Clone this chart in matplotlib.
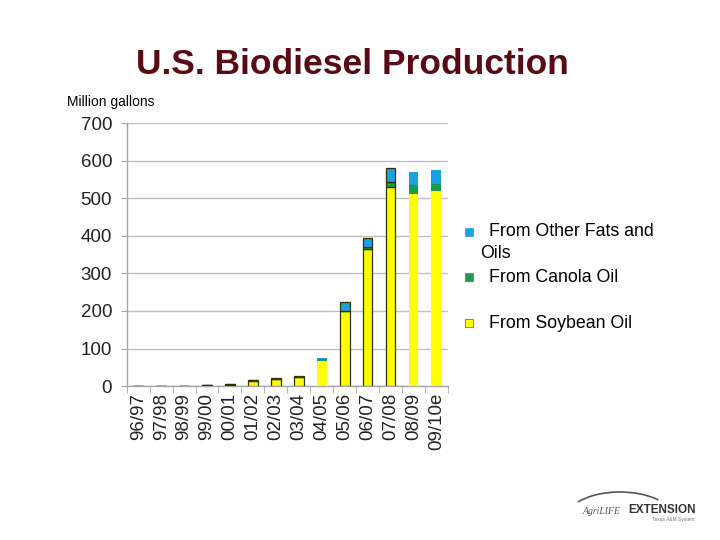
import matplotlib
matplotlib.use("Agg")
import matplotlib.pyplot as plt
from matplotlib.patches import Rectangle, Arc
import numpy as np

plt.rcParams['font.family'] = ['Liberation Sans', 'DejaVu Sans']

categories = ["96/97", "97/98", "98/99", "99/00", "00/01", "01/02", "02/03",
              "03/04", "04/05", "05/06", "06/07", "07/08", "08/09", "09/10e"]
soybean = [0, 0, 0, 2, 4, 14, 19, 24, 67, 200, 365, 529, 511, 519]
canola = [0, 0, 0, 0, 1, 1, 1, 1, 4, 1, 5, 15, 24, 20]
other = [0, 0, 0, 0, 0, 0, 1, 1, 4, 23, 25, 37, 34, 36]
yticks = [0, 100, 200, 300, 400, 500, 600, 700]

c_soy = "#ffff00"
c_can = "#1e9a4c"
c_oth = "#1ba1e2"
grey = "#a6a6a6"

fig = plt.figure(figsize=(7.2, 5.4), dpi=100)
ax = fig.add_axes([0.176, 0.285, 0.446, 0.487])

x = np.arange(len(categories))
w = 0.43
edges = ["#333300"] * 8 + ["none"] + ["#333300"] * 3 + ["none", "none"]
soy_b = np.array(soybean)
can_b = np.array(canola)
oth_b = np.array(other)
ax.bar(x, soy_b, w, color=c_soy, edgecolor=edges, linewidth=0.9, zorder=3)
ax.bar(x, can_b, w, bottom=soy_b, color=c_can, edgecolor=edges, linewidth=0.9, zorder=3)
ax.bar(x, oth_b, w, bottom=soy_b + can_b, color=c_oth, edgecolor=edges, linewidth=0.9, zorder=3)

ax.set_xlim(-0.5, len(categories) - 0.5)
ax.set_ylim(0, 700)
ax.set_yticks(yticks)
ax.set_yticklabels([str(v) for v in yticks], fontsize=13.5, color="#222222")
ax.yaxis.grid(True, color="#c0c0c0", linewidth=1.0, zorder=0)
ax.set_axisbelow(True)
ax.set_xticks(x)
ax.set_xticklabels(categories, rotation=90, fontsize=13.5, color="#222222")
ax.set_xticks(np.arange(-0.5, len(categories), 1.0), minor=True)
ax.tick_params(axis='x', which='major', length=0, pad=5)
ax.tick_params(axis='x', which='minor', length=5, color=grey, direction='out')
ax.tick_params(axis='y', length=4, color=grey, direction='out', pad=6.5)
for s in ["top", "right"]:
    ax.spines[s].set_visible(False)
for s in ["left", "bottom"]:
    ax.spines[s].set_color(grey)
    ax.spines[s].set_linewidth(1.0)

fig.text(0.489, 1 - 65 / 540, "U.S. Biodiesel Production", ha="center", va="center",
         fontsize=25.5, fontweight="bold", color="#5a0a14")
fig.text(0.093, 1 - 102 / 540, "Million gallons", ha="left", va="center", fontsize=10)

# Legend (drawn manually to match layout)
sq = 8
legend_items = [(c_oth, 232), (c_can, 277), (c_soy, 323)]
for col, ypx in legend_items:
    fig.patches.append(Rectangle((465 / 720, 1 - (ypx + sq / 2) / 540), sq / 720, sq / 540,
                                 transform=fig.transFigure, facecolor=col,
                                 edgecolor="#555555" if col == c_soy else col, linewidth=0.5))
fig.text(489 / 720, 1 - 232 / 540, "From Other Fats and", ha="left", va="center", fontsize=12.8)
fig.text(480 / 720, 1 - 253 / 540, "Oils", ha="left", va="center", fontsize=12.8)
fig.text(489 / 720, 1 - 277 / 540, "From Canola Oil", ha="left", va="center", fontsize=12.8)
fig.text(489 / 720, 1 - 323 / 540, "From Soybean Oil", ha="left", va="center", fontsize=12.8)

# Logo
fig.text(583 / 720, 1 - 511 / 540, "AgriLIFE", fontsize=7, color="#555555",
         fontstyle="italic", family="Liberation Serif", ha="left", va="center")
fig.text(628 / 720, 1 - 510 / 540, "EXTENSION", fontsize=8.5, fontweight="bold",
         color="#333333", ha="left", va="center")
fig.text(652 / 720, 1 - 520 / 540, "Texas A&M System", fontsize=3.5, color="#777777",
         ha="left", va="center")
fig.patches.append(Arc((620 / 720, 1 - 520 / 540), 110 / 720, 56 / 540, theta1=35, theta2=150,
                       transform=fig.transFigure, color="#555555", linewidth=1.2))

fig.savefig("out.png", dpi=100)
